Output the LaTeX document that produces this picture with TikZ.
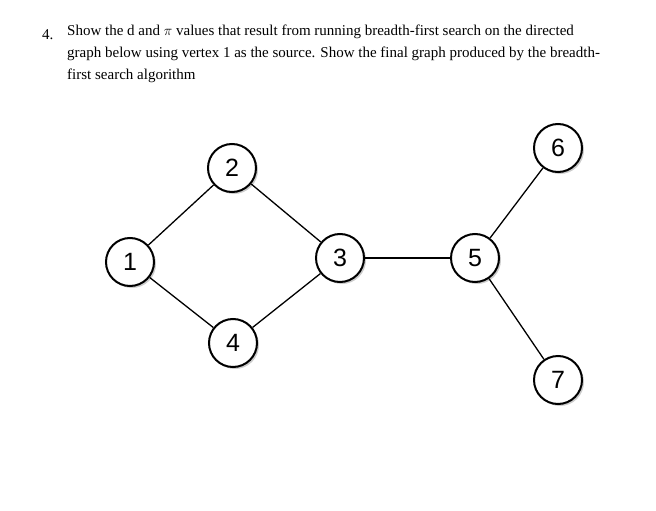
\documentclass[tikz,border=0pt]{standalone}
\usepackage{fontspec}
\setmainfont{Liberation Serif}
\newfontfamily\numfont{Liberation Sans}
\usetikzlibrary{shadows}
\begin{document}
\begin{tikzpicture}[x=1pt,y=-1pt,
  vert/.style={circle,draw,line width=2pt,fill=white,minimum size=48pt,inner sep=0pt,font=\numfont\fontsize{25}{25}\selectfont,drop shadow={shadow xshift=2pt,shadow yshift=-2pt,opacity=0.4}},
  edge/.style={line width=1.3pt},
  qtext/.style={font=\rmfamily\fontsize{15}{22}\selectfont}]
\useasboundingbox (0,0) rectangle (656,511);
\node[qtext,anchor=base west,inner sep=0pt] (q) at (42,40) {4.};
\node[qtext,anchor=north west,align=left,inner sep=0pt] (t) at (67,25)
{Show the d and $\pi$ values that result from running breadth-first search on the directed\\
graph below using vertex 1 as the source. Show the final graph produced by the breadth-\\
first search algorithm};
\node[vert] (n1) at (130,262) {1};
\node[vert] (n2) at (232,168) {2};
\node[vert] (n3) at (340,258) {3};
\node[vert] (n4) at (233,343) {4};
\node[vert] (n5) at (475,258) {5};
\node[vert] (n6) at (558,148) {6};
\node[vert] (n7) at (558,380) {7};
\draw[edge] (n1) -- (n2);
\draw[edge] (n1) -- (n4);
\draw[edge] (n2) -- (n3);
\draw[edge] (n4) -- (n3);
\draw[edge] (n3) -- (n5);
\draw[edge] (n5) -- (n6);
\draw[edge] (n5) -- (n7);
\end{tikzpicture}
\end{document}
